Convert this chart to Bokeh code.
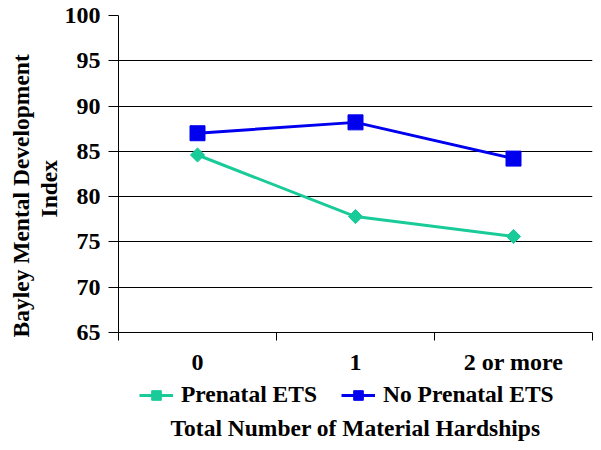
import math
from bokeh.plotting import figure
from bokeh.layouts import column
from bokeh.models import FixedTicker, Legend, LegendItem, Label, Title
from bokeh.embed import file_html
from bokeh.resources import INLINE

categories = ["0", "1", "2 or more"]
prenatal_ets = [84.6, 77.8, 75.6]
no_prenatal_ets = [87.0, 88.2, 84.2]
y_ticks = [65, 70, 75, 80, 85, 90, 95, 100]

FONT = "Liberation Serif"
TEAL = "#18CB98"
BLUE = "#0000EE"
FS = "24px"
LFS = "23.5px"

xs = [i + 0.5 for i in range(len(categories))]


def series(fig):
    a = fig.line(xs, prenatal_ets, line_color=TEAL, line_width=3)
    b = fig.scatter(xs, prenatal_ets, marker="square", angle=[math.pi / 4] * len(xs), size=10,
                    fill_color=TEAL, line_color=TEAL)
    c = fig.line(xs, no_prenatal_ets, line_color=BLUE, line_width=3)
    d = fig.scatter(xs, no_prenatal_ets, marker="square", size=15,
                    fill_color=BLUE, line_color=BLUE)
    return a, b, c, d


p = figure(frame_width=474, frame_height=317, output_backend="svg", toolbar_location=None,
           x_range=(0, len(categories)), y_range=(65, 100),
           min_border_left=118, min_border_right=6, min_border_top=15, min_border_bottom=48)
p.outline_line_color = None
series(p)

# x axis
p.xaxis.ticker = FixedTicker(ticks=xs, minor_ticks=list(range(len(categories) + 1)))
p.xaxis.major_label_overrides = {x: c for x, c in zip(xs, categories)}
p.xaxis.major_tick_line_color = None
p.xaxis.major_tick_out = 0
p.xaxis.major_tick_in = 0
p.xaxis.minor_tick_out = 8
p.xaxis.minor_tick_in = 0
p.xaxis.minor_tick_line_color = "black"
p.xaxis.axis_line_color = "black"
p.xaxis.major_label_text_font = FONT
p.xaxis.major_label_text_font_style = "bold"
p.xaxis.major_label_text_font_size = FS
p.xaxis.major_label_text_color = "black"
p.xaxis.major_label_standoff = 8
p.xgrid.grid_line_color = None

# y axis
p.yaxis.ticker = FixedTicker(ticks=y_ticks, minor_ticks=[])
p.yaxis.major_tick_out = 10
p.yaxis.major_tick_in = 0
p.yaxis.major_tick_line_color = "black"
p.yaxis.axis_line_color = "black"
p.yaxis.major_label_text_font = FONT
p.yaxis.major_label_text_font_style = "bold"
p.yaxis.major_label_text_font_size = FS
p.yaxis.major_label_text_color = "black"
p.yaxis.major_label_standoff = 8
p.ygrid.grid_line_color = "black"
p.ygrid.grid_line_width = 1

# y-axis title, two lines
t_index = Title(text="Index", align="left", offset=115, standoff=0,
                text_font=FONT, text_font_style="bold", text_font_size=LFS, text_color="black")
t_bayley = Title(text="Bayley Mental Development", align="left", offset=-5, standoff=0,
                 text_font=FONT, text_font_style="bold", text_font_size=LFS, text_color="black")
p.add_layout(t_index, "left")
p.add_layout(t_bayley, "left")

# legend + x title in a strip below (its frame lines up with the plot frame)
q = figure(width=598, height=68, output_backend="svg", toolbar_location=None,
           x_range=(100, 101), y_range=(100, 101),
           x_axis_location=None, y_axis_location=None, min_border=0)
q.outline_line_color = None
q.grid.grid_line_color = None
a, b, c, d = series(q)

legend = Legend(items=[
    LegendItem(label="Prenatal ETS", renderers=[a, b]),
    LegendItem(label="No Prenatal ETS", renderers=[c, d]),
], orientation="horizontal", location=(21, 40))
legend.label_text_font = FONT
legend.label_text_font_style = "bold"
legend.label_text_font_size = LFS
legend.label_text_color = "black"
legend.glyph_width = 34
legend.glyph_height = 24
legend.spacing = 24
legend.label_standoff = 8
legend.border_line_color = None
legend.background_fill_alpha = 0
legend.padding = 0
legend.margin = 0
q.add_layout(legend)

xtitle = Label(x=237, y=21, x_units="screen", y_units="screen",
               text="Total Number of Material Hardships",
               text_align="center", text_baseline="middle",
               text_font=FONT, text_font_style="bold", text_font_size=LFS,
               text_color="black")
q.add_layout(xtitle)

open("out.html", "w").write(file_html(column(p, q, spacing=0), INLINE))
